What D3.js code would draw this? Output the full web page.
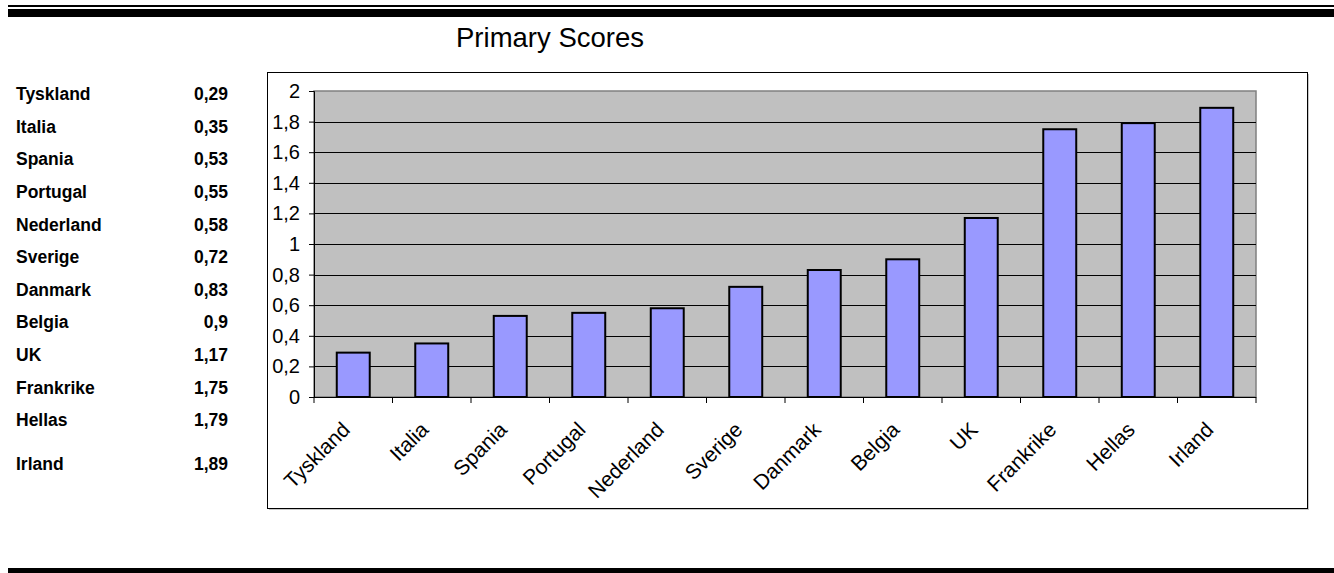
<!DOCTYPE html>
<html>
<head>
<meta charset="utf-8">
<script src="https://cdn.jsdelivr.net/npm/d3@7"></script>
<style>
  body { margin: 0; background: #fff; }
  svg { display: block; font-family: "Liberation Sans", Arial, sans-serif; }
</style>
</head>
<body>
<svg id="chart" width="1334" height="573"></svg>
<script>
// data
const countries = ["Tyskland", "Italia", "Spania", "Portugal", "Nederland", "Sverige",
                   "Danmark", "Belgia", "UK", "Frankrike", "Hellas", "Irland"];
const scores = [0.29, 0.35, 0.53, 0.55, 0.58, 0.72, 0.83, 0.9, 1.17, 1.75, 1.79, 1.89];
const scoreLabels = ["0,29", "0,35", "0,53", "0,55", "0,58", "0,72", "0,83", "0,9", "1,17", "1,75", "1,79", "1,89"];
const yTicks = [0, 0.2, 0.4, 0.6, 0.8, 1, 1.2, 1.4, 1.6, 1.8, 2];
const title = "Primary Scores";

let svg = d3.select("#chart");
let fmt = d => String(d).replace(".", ",");

// page rules top and bottom
svg.append("rect").attr("x", 8).attr("y", 5).attr("width", 1326).attr("height", 2).attr("fill", "#000");
svg.append("rect").attr("x", 8).attr("y", 9).attr("width", 1326).attr("height", 8).attr("fill", "#000");
svg.append("rect").attr("x", 8).attr("y", 568).attr("width", 1326).attr("height", 5).attr("fill", "#000");

// title
svg.append("text")
    .attr("x", 550).attr("y", 47)
    .attr("text-anchor", "middle")
    .style("font-size", "27.5px")
    .text(title);

// left-hand table
let rowY = [94, 127, 159, 192, 225, 257, 290, 322, 355, 388, 420, 464];
let table = svg.append("g").style("font-size", "17.5px").style("font-weight", "bold");
table.selectAll("text.name").data(countries).enter().append("text")
    .attr("class", "name")
    .attr("x", 16).attr("y", (d, i) => rowY[i])
    .attr("dy", "0.35em")
    .text(d => d);
table.selectAll("text.val").data(scoreLabels).enter().append("text")
    .attr("class", "val")
    .attr("x", 228).attr("y", (d, i) => rowY[i])
    .attr("dy", "0.35em")
    .attr("text-anchor", "end")
    .text(d => d);

// chart frame
svg.append("rect").attr("x", 269).attr("y", 74).attr("width", 1040).attr("height", 436).attr("fill", "#c8c8c8");
svg.append("rect").attr("x", 267.5).attr("y", 72.5).attr("width", 1040).attr("height", 436)
    .attr("fill", "#fff").attr("stroke", "#000").attr("stroke-width", 1);

let plot = { left: 314, top: 91, right: 1256, bottom: 397 };

let x = d3.scaleBand().domain(countries).range([plot.left, plot.right]).paddingInner(0.58).paddingOuter(0.29);
let y = d3.scaleLinear().domain([0, 2]).range([plot.bottom, plot.top]);

// plot area
svg.append("rect")
    .attr("x", plot.left).attr("y", plot.top)
    .attr("width", plot.right - plot.left).attr("height", plot.bottom - plot.top)
    .attr("fill", "#c0c0c0").attr("stroke", "#808080").attr("stroke-width", 1.5);

// grid lines
svg.append("g").selectAll("line").data(yTicks.filter(d => d > 0 && d < 2)).enter().append("line")
    .attr("x1", plot.left).attr("x2", plot.right)
    .attr("y1", d => Math.round(y(d)) + 0.5).attr("y2", d => Math.round(y(d)) + 0.5)
    .attr("stroke", "#000").attr("stroke-width", 1);

// bars
svg.append("g").selectAll("rect").data(scores).enter().append("rect")
    .attr("x", (d, i) => x(countries[i]))
    .attr("y", d => y(d))
    .attr("width", x.bandwidth())
    .attr("height", d => y(0) - y(d))
    .attr("fill", "#9999ff")
    .attr("stroke", "#000")
    .attr("stroke-width", 2);

// y axis
let yAxis = svg.append("g")
    .attr("transform", `translate(${plot.left},0)`)
    .call(d3.axisLeft(y).tickValues(yTicks).tickFormat(fmt).tickSize(5).tickPadding(9));
yAxis.select(".domain").attr("stroke", "#000").attr("stroke-width", 1);
yAxis.selectAll("text").style("font-size", "20px").attr("fill", "#000");

// x axis: ticks at band boundaries
let bounds = d3.range(countries.length + 1).map(i => plot.left + i * (plot.right - plot.left) / countries.length);
let xAxis = svg.append("g");
xAxis.append("line").attr("x1", plot.left).attr("x2", plot.right)
    .attr("y1", plot.bottom + 0.5).attr("y2", plot.bottom + 0.5).attr("stroke", "#000");
xAxis.selectAll("line.tick").data(bounds).enter().append("line")
    .attr("class", "tick")
    .attr("x1", d => d).attr("x2", d => d)
    .attr("y1", plot.bottom).attr("y2", plot.bottom + 6)
    .attr("stroke", "#000");
xAxis.selectAll("text").data(countries).enter().append("text")
    .attr("transform", d => `translate(${x(d) + x.bandwidth() / 2 - 2},${plot.bottom + 34}) rotate(-45)`)
    .attr("text-anchor", "end")
    .style("font-size", "21px")
    .text(d => d);
</script>
</body>
</html>
